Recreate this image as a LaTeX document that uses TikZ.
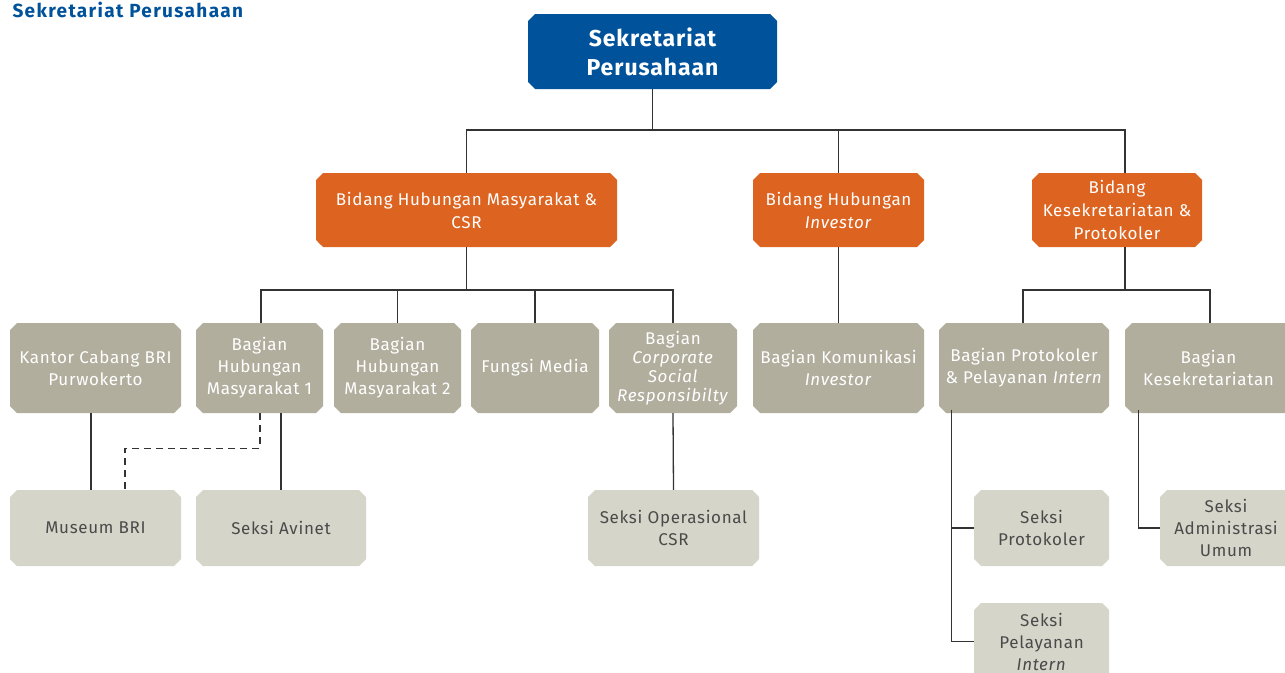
\documentclass[tikz,border=0pt]{standalone}
\usepackage{fontspec}
\setmainfont[LetterSpace=4]{Fira Sans}
\usetikzlibrary{shapes.misc,calc}
\definecolor{briblue}{HTML}{00529B}
\definecolor{briorange}{HTML}{DD6420}
\definecolor{brigray}{HTML}{B1AE9E}
\definecolor{brilight}{HTML}{D6D5C9}
\definecolor{bridark}{HTML}{4A4A4A}
\definecolor{linecol}{HTML}{333333}
\begin{document}
\begin{tikzpicture}[x=1pt,y=-1pt,
  box/.style={chamfered rectangle, chamfered rectangle xsep=3.5pt, chamfered rectangle ysep=3.5pt,
    inner sep=0pt, align=center, draw=none},
  topbox/.style={box, fill=briblue, text=white, font=\bfseries\fontsize{23}{29}\selectfont},
  orgbox/.style={box, fill=briorange, text=white, font=\fontsize{17}{23}\selectfont},
  midbox/.style={box, fill=brigray, text=white, font=\fontsize{17}{22}\selectfont},
  lightbox/.style={box, fill=brilight, text=bridark, font=\fontsize{17}{22}\selectfont},
  conn/.style={draw=linecol, line width=1.3pt},
  dashconn/.style={conn, dash pattern=on 7pt off 5pt}]
\useasboundingbox (0,0) rectangle (1285,672);
\clip (0,0) rectangle (1285,672);
\fill[white] (0,0) rectangle (1285,672);
\node[anchor=base west, text=briblue, font=\bfseries\fontsize{19}{22}\selectfont\addfontfeatures{LetterSpace=7}] (title) at (9,17) {Sekretariat Perusahaan};
% level 0
\node[topbox, minimum width=249pt, minimum height=75pt] (top) at (652.5,51.5) {Sekretariat\\Perusahaan};
% level 1
\node[orgbox, minimum width=301pt, minimum height=74pt] (A) at (466.5,210) {Bidang Hubungan Masyarakat \&\\CSR};
\node[orgbox, minimum width=171pt, minimum height=74pt] (B) at (838.5,210) {Bidang Hubungan\\\textit{Investor}};
\node[orgbox, minimum width=170pt, minimum height=74pt] (C) at (1117,210) {Bidang\\Kesekretariatan \&\\Protokoler};
% level 2
\node[midbox, minimum width=171pt, minimum height=90pt] (K) at (95.5,368) {Kantor Cabang BRI\\Purwokerto};
\node[midbox, minimum width=127pt, minimum height=90pt] (H1) at (259.5,368) {Bagian\\Hubungan\\Masyarakat 1};
\node[midbox, minimum width=127pt, minimum height=90pt] (H2) at (397.5,368) {Bagian\\Hubungan\\Masyarakat 2};
\node[midbox, minimum width=128pt, minimum height=90pt] (FM) at (535,368) {Fungsi Media};
\node[midbox, minimum width=128pt, minimum height=90pt, font=\fontsize{17}{19}\selectfont] (CSR) at (673,368) {Bagian\\\textit{Corporate}\\\textit{Social}\\\textit{Responsibilty}};
\node[midbox, minimum width=171pt, minimum height=90pt] (KI) at (838.5,368) {Bagian Komunikasi\\\textit{Investor}};
\node[midbox, minimum width=170pt, minimum height=90pt] (PPI) at (1024,368) {Bagian Protokoler\\\& Pelayanan \textit{Intern}};
\node[midbox, minimum width=167pt, minimum height=90pt] (KS) at (1208.5,368) {Bagian\\Kesekretariatan};
% level 3
\node[lightbox, minimum width=171pt, minimum height=76pt] (Museum) at (95.5,528) {Museum BRI};
\node[lightbox, minimum width=170pt, minimum height=76pt] (Avinet) at (281,528) {Seksi Avinet};
\node[lightbox, minimum width=171pt, minimum height=76pt] (OpCSR) at (673.5,528) {Seksi Operasional\\CSR};
\node[lightbox, minimum width=135pt, minimum height=76pt] (SP) at (1041.5,528) {Seksi\\Protokoler};
\node[lightbox, minimum width=135pt, minimum height=77pt] (SPI) at (1041.5,641.5) {Seksi\\Pelayanan\\\textit{Intern}};
\node[lightbox, minimum width=132pt, minimum height=76pt] (SAU) at (1226,528) {Seksi\\Administrasi\\Umum};
% connectors level 0-1
\coordinate (j0) at (652.5,130);
\coordinate (cT) at ($(C.north)+(8,0)$);
\coordinate (cB) at ($(C.south)+(8,0)$);
\draw[conn] (top.south) -- (j0);
\draw[conn] (A.north) |- (j0) -| (cT);
\draw[conn] (B.north) -- (B.north |- j0);
% level 1-2
\coordinate (j1) at (466.5,290);
\coordinate (j2) at (1125,290);
\draw[conn] (A.south) -- (j1);
\draw[conn] ($(H1.north)+(1.5,0)$) |- (j1) -| (CSR.north);
\draw[conn] (H2.north) -- (H2.north |- j1);
\draw[conn] (FM.north) -- (FM.north |- j1);
\draw[conn] (B.south) -- (KI.north);
\draw[conn] (cB) -- (j2);
\draw[conn] ($(PPI.north)+(-1,0)$) |- (j2) -| ($(KS.north)+(1.5,0)$);
% level 2-3
\draw[conn] ($(K.south)+(-4.5,0)$) -- ($(Museum.north)+(-4.5,0)$);
\draw[dashconn] ($(H1.south)+(0.5,0)$) -- ++(0,35) -| ($(Museum.north)+(29.5,0)$);
\draw[conn] (H1.south -| Avinet.north) -- (Avinet.north);
\draw[conn] (CSR.south) -- (OpCSR.north);
\coordinate (p0) at ($(PPI.south west)+(9,0)$);
\draw[conn] (p0) |- (SPI.west);
\draw[conn] (SP.west) -- (SP.west -| p0);
\draw[conn] ($(KS.south west)+(10,0)$) |- (SAU.west);
\end{tikzpicture}
\end{document}
